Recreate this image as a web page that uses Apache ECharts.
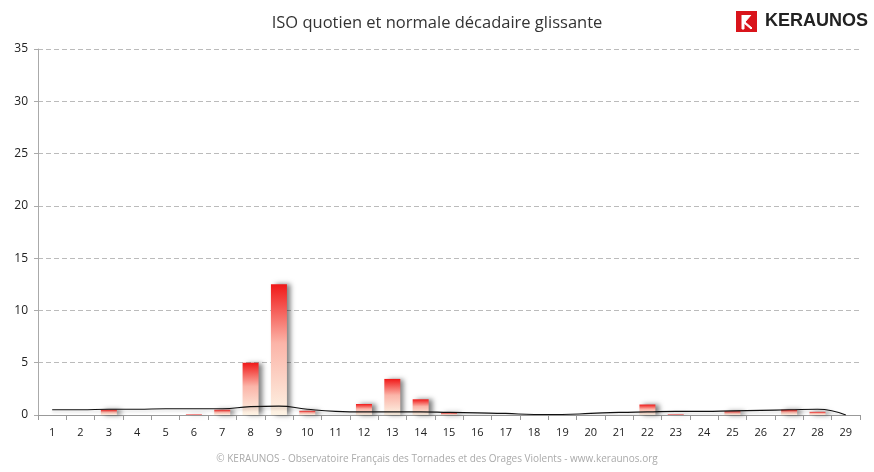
<!DOCTYPE html>
<html><head><meta charset="utf-8">
<script src="https://cdn.jsdelivr.net/npm/echarts@6/dist/echarts.min.js"></script>
<style>html,body{margin:0;padding:0;background:#fff}#c{width:874px;height:472px}</style>
</head><body><div id="c"></div>
<script>
const categories = ['1','2','3','4','5','6','7','8','9','10','11','12','13','14','15','16','17','18','19','20','21','22','23','24','25','26','27','28','29'];
const isoValues = [0, 0, 0.5, 0, 0, 0.05, 0.5, 5.0, 12.5, 0.4, 0, 1.05, 3.45, 1.5, 0.2, 0, 0, 0, 0, 0, 0, 1.0, 0.05, 0, 0.35, 0, 0.5, 0.3, 0];
const normaleValues = [0.5, 0.5, 0.55, 0.55, 0.6, 0.6, 0.6, 0.8, 0.85, 0.55, 0.35, 0.3, 0.3, 0.3, 0.25, 0.2, 0.15, 0.05, 0.05, 0.15, 0.25, 0.3, 0.35, 0.35, 0.4, 0.45, 0.5, 0.55, 0];
const yTicks = [0, 5, 10, 15, 20, 25, 30, 35];

const chart = echarts.init(document.getElementById('c'));
const font = "'Open Sans', 'Liberation Sans', sans-serif";
chart.setOption({
  animation: false,
  backgroundColor: '#ffffff',
  title: {
    text: 'ISO quotien et normale décadaire glissante',
    left: 'center', top: 10,
    textStyle: { fontFamily: font, fontSize: 16.5, fontWeight: 'normal', color: '#333' }
  },
  graphic: [
    { type: 'rect', left: 736, top: 11, shape: { width: 21, height: 21 }, style: { fill: '#d9141b' } },
    { type: 'polyline', shape: { points: [[742,15],[742,29],[744,29],[744,23],[751,29],[752,28],[745,22],[751,15]] }, style: { fill: '#fff', stroke: '#fff', lineWidth: 1 } },
    { type: 'text', left: 765, top: 12, style: { text: 'KERAUNOS', font: "600 18px 'Liberation Sans', sans-serif", fill: '#222' } },
    { type: 'text', left: 'center', top: 454, style: { text: '© KERAUNOS - Observatoire Français des Tornades et des Orages Violents - www.keraunos.org', font: "10px " + font, fill: '#aaa' } }
  ],
  grid: { left: 38, right: 14, top: 49, bottom: 57 },
  xAxis: {
    type: 'category', data: categories, boundaryGap: true,
    axisLine: { lineStyle: { color: '#999' } },
    axisTick: { show: true, alignWithLabel: false, length: 5, lineStyle: { color: '#999' } },
    axisLabel: { fontFamily: font, fontSize: 11, color: '#222', margin: 12 }
  },
  yAxis: {
    type: 'value', min: 0, max: 35, interval: 5,
    axisLine: { show: true, lineStyle: { color: '#aaa' } },
    axisTick: { show: true, length: 4, lineStyle: { color: '#aaa' } },
    axisLabel: { fontFamily: font, fontSize: 12, color: '#222', margin: 10,
      formatter: v => yTicks.includes(v) ? String(v) : '' },
    splitLine: { lineStyle: { color: '#bbb', type: [5, 3] } }
  },
  series: [
    {
      type: 'bar', data: isoValues, barWidth: 16,
      itemStyle: {
        color: new echarts.graphic.LinearGradient(0, 0, 0, 1, [
          { offset: 0, color: '#f01818' },
          { offset: 0.45, color: '#fbb4a8' },
          { offset: 1, color: '#fdf3e4' }
        ]),
        shadowColor: 'rgba(0,0,0,0.5)', shadowBlur: 5, shadowOffsetX: 4, shadowOffsetY: 0
      }
    },
    {
      type: 'line', data: normaleValues, smooth: true, symbol: 'none',
      lineStyle: { color: '#111', width: 1.2, shadowColor: 'rgba(0,0,0,0.2)', shadowBlur: 3, shadowOffsetY: 2 },
      z: 3
    }
  ]
});
</script></body></html>
